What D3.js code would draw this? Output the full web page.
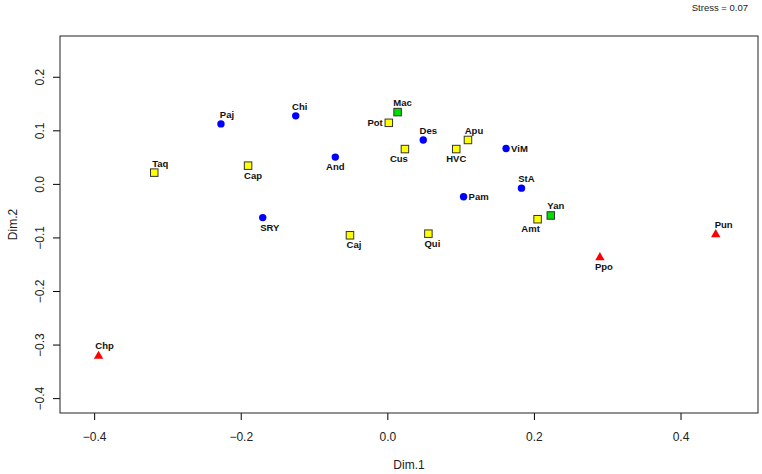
<!DOCTYPE html>
<html>
<head>
<meta charset="utf-8">
<script src="https://cdn.jsdelivr.net/npm/d3@7"></script>
<style>
  body { margin: 0; background: #fff; }
  svg { display: block; font-family: "Liberation Sans", Arial, sans-serif; }
</style>
</head>
<body>
<div id="mds"></div>
<script>
// site codes and their MDS coordinates
var sites = ["Taq","Paj","Chi","Cap","And","SRY","Caj","Qui","Mac","Pot","Des","Cus",
             "Apu","HVC","ViM","StA","Pam","Amt","Yan","Ppo","Pun","Chp"];
var dim1  = [-0.318,-0.227,-0.125,-0.190,-0.071,-0.170,-0.051,0.056,0.014,0.002,0.049,0.024,
              0.110,0.094,0.162,0.183,0.104,0.205,0.223,0.290,0.448,-0.394];
var dim2  = [0.021,0.112,0.127,0.034,0.050,-0.063,-0.096,-0.093,0.134,0.114,0.082,0.065,
             0.082,0.065,0.066,-0.008,-0.024,-0.066,-0.059,-0.136,-0.093,-0.320];
var group = ["Y","B","B","Y","B","B","Y","Y","G","Y","B","Y",
             "Y","Y","B","B","B","Y","G","R","R","R"];
var xTicks = [-0.4,-0.2,0.0,0.2,0.4];
var yTicks = [-0.4,-0.3,-0.2,-0.1,0.0,0.1,0.2];
var stressLabel = "Stress = 0.07";

// where each label sits next to its point (t/b/l/r) and a small x nudge
var labelSide = ["t","t","t","b","b","b","b","b","t","l","t","b",
                 "t","b","r","t","r","b","t","b","t","t"];
var labelDx   = [6,6,4,5,0,7,4,4,5,0,5,-6,
                 6,0,0,5,0,-7,5,4,8,6];

var W = 762, H = 474;
var margin = {top: 36, right: 4, bottom: 61, left: 60},
    width = W - margin.left - margin.right,
    height = H - margin.top - margin.bottom;

var svg = d3.select("#mds").append("svg")
    .attr("width", W).attr("height", H);

var g = svg.append("g")
    .attr("transform", "translate(" + margin.left + "," + margin.top + ")");

var x = d3.scaleLinear().domain([-0.4466, 0.5057]).range([0, width]);
var y = d3.scaleLinear().domain([-0.4278, 0.2761]).range([height, 0]);

var fmt = d3.format(".1f");

// x axis
var xa = g.append("g")
    .attr("transform", "translate(0," + height + ")")
    .call(d3.axisBottom(x).tickValues(xTicks).tickFormat(fmt).tickSize(7).tickSizeOuter(0));
xa.select(".domain").remove();
xa.selectAll("text").attr("y", 27.5).attr("dy", 0)
    .style("font-size", "12px").attr("fill", "#222");

// y axis with rotated labels like R
var ya = g.append("g")
    .call(d3.axisLeft(y).tickValues(yTicks).tickFormat(fmt).tickSize(7).tickSizeOuter(0));
ya.select(".domain").remove();
ya.selectAll("text")
    .attr("x", 0).attr("dy", 0)
    .attr("text-anchor", "middle")
    .attr("transform", "translate(-16.5,0) rotate(-90)")
    .style("font-size", "12px").attr("fill", "#222");

// plot box
g.append("rect")
    .attr("width", width).attr("height", height)
    .attr("fill", "none").attr("stroke", "#222").attr("stroke-width", 1);

// axis titles
svg.append("text")
    .attr("x", margin.left + width / 2).attr("y", 469)
    .attr("text-anchor", "middle").style("font-size", "12px").attr("fill", "#222")
    .text("Dim.1");
svg.append("text")
    .attr("transform", "translate(17," + (margin.top + height / 2) + ") rotate(-90)")
    .attr("text-anchor", "middle").style("font-size", "12px").attr("fill", "#222")
    .text("Dim.2");

svg.append("text")
    .attr("x", 748).attr("y", 10.5)
    .attr("text-anchor", "end").style("font-size", "9.5px").attr("fill", "#222")
    .text(stressLabel);

var data = sites.map(function (s, i) {
    return {name: s, d1: dim1[i], d2: dim2[i], grp: group[i], side: labelSide[i], dx: labelDx[i]};
});

var pts = g.append("g");

// blue circles
pts.selectAll("circle")
    .data(data.filter(function (d) { return d.grp === "B"; }))
    .enter().append("circle")
    .attr("cx", function (d) { return x(d.d1); })
    .attr("cy", function (d) { return y(d.d2); })
    .attr("r", 3.7)
    .attr("fill", "#0000ff");

// yellow and green squares
var sq = 7.5;
pts.selectAll("rect")
    .data(data.filter(function (d) { return d.grp === "Y" || d.grp === "G"; }))
    .enter().append("rect")
    .attr("x", function (d) { return x(d.d1) - sq / 2; })
    .attr("y", function (d) { return y(d.d2) - sq / 2; })
    .attr("width", sq).attr("height", sq)
    .attr("fill", function (d) { return d.grp === "Y" ? "#ffff00" : "#00e000"; })
    .attr("stroke", "#333").attr("stroke-width", 1);

// red triangles
var tri = d3.symbol().type(d3.symbolTriangle).size(38);
pts.selectAll("path")
    .data(data.filter(function (d) { return d.grp === "R"; }))
    .enter().append("path")
    .attr("d", tri)
    .attr("transform", function (d) { return "translate(" + x(d.d1) + "," + (y(d.d2) + 0.8) + ")"; })
    .attr("fill", "#ff0000");

// labels
g.append("g").selectAll("text")
    .data(data)
    .enter().append("text")
    .style("font-size", "9.5px").style("font-weight", "bold").attr("fill", "#111")
    .attr("text-anchor", function (d) {
        return d.side === "l" ? "end" : d.side === "r" ? "start" : "middle";
    })
    .attr("x", function (d) {
        var px = x(d.d1);
        if (d.side === "l") return px - 6;
        if (d.side === "r") return px + 5;
        return px + d.dx;
    })
    .attr("y", function (d) {
        var py = y(d.d2);
        if (d.side === "t") return py - 6;
        if (d.side === "b") return py + 13;
        return py + 3.5;
    })
    .text(function (d) { return d.name; });
</script>
</body>
</html>
